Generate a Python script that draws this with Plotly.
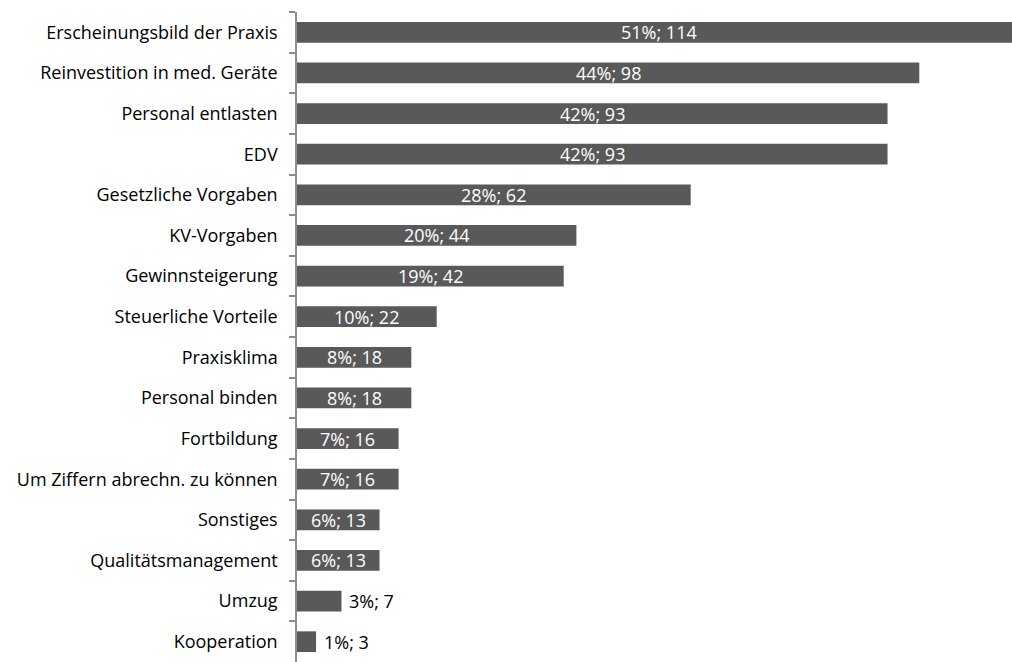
import plotly.graph_objects as go

# Reasons for investment: share of respondents and absolute count
categories = [
    "Erscheinungsbild der Praxis",
    "Reinvestition in med. Geräte",
    "Personal entlasten",
    "EDV",
    "Gesetzliche Vorgaben",
    "KV-Vorgaben",
    "Gewinnsteigerung",
    "Steuerliche Vorteile",
    "Praxisklima",
    "Personal binden",
    "Fortbildung",
    "Um Ziffern abrechn. zu können",
    "Sonstiges",
    "Qualitätsmanagement",
    "Umzug",
    "Kooperation",
]
counts = [114, 98, 93, 93, 62, 44, 42, 22, 18, 18, 16, 16, 13, 13, 7, 3]
percents = [51, 44, 42, 42, 28, 20, 19, 10, 8, 8, 7, 7, 6, 6, 3, 1]

BAR_COLOR = "#595959"
AXIS_COLOR = "#8c8c8c"
FONT = "Open Sans"
FONT_SIZE = 18

fig = go.Figure(
    go.Bar(
        x=counts,
        y=categories,
        orientation="h",
        marker=dict(color=BAR_COLOR, line=dict(width=0)),
        width=0.51,
        hoverinfo="skip",
    )
)

# Value labels: inside (white, centred) for long bars, outside (dark) for short ones
inside_min = 10
for cat, c, p in zip(categories, counts, percents):
    label = f"{p}%; {c}"
    if c >= inside_min:
        fig.add_annotation(
            x=c / 2, y=cat, text=label, showarrow=False,
            xanchor="center", yanchor="middle",
            font=dict(family=FONT, size=FONT_SIZE, color="white"),
        )
    else:
        fig.add_annotation(
            x=c, y=cat, text=label, showarrow=False,
            xanchor="left", yanchor="middle", xshift=6,
            font=dict(family=FONT, size=FONT_SIZE, color="#000000"),
        )

fig.update_layout(
    width=1012,
    height=662,
    margin=dict(l=297, r=0, t=12, b=0),
    paper_bgcolor="white",
    plot_bgcolor="white",
    showlegend=False,
    bargap=0.49,
    font=dict(family=FONT, size=FONT_SIZE, color="#000000"),
    xaxis=dict(
        range=[0, 112.6],
        visible=False,
        showgrid=False,
        zeroline=False,
    ),
    yaxis=dict(
        autorange="reversed",
        showline=True,
        linecolor=AXIS_COLOR,
        linewidth=1.5,
        ticks="outside",
        tickson="boundaries",
        ticklen=6,
        tickcolor=AXIS_COLOR,
        tickwidth=1.5,
        ticklabelstandoff=14,
        showgrid=False,
        zeroline=False,
        tickfont=dict(family=FONT, size=FONT_SIZE, color="#000000"),
    ),
)

fig.write_html("out.html")
